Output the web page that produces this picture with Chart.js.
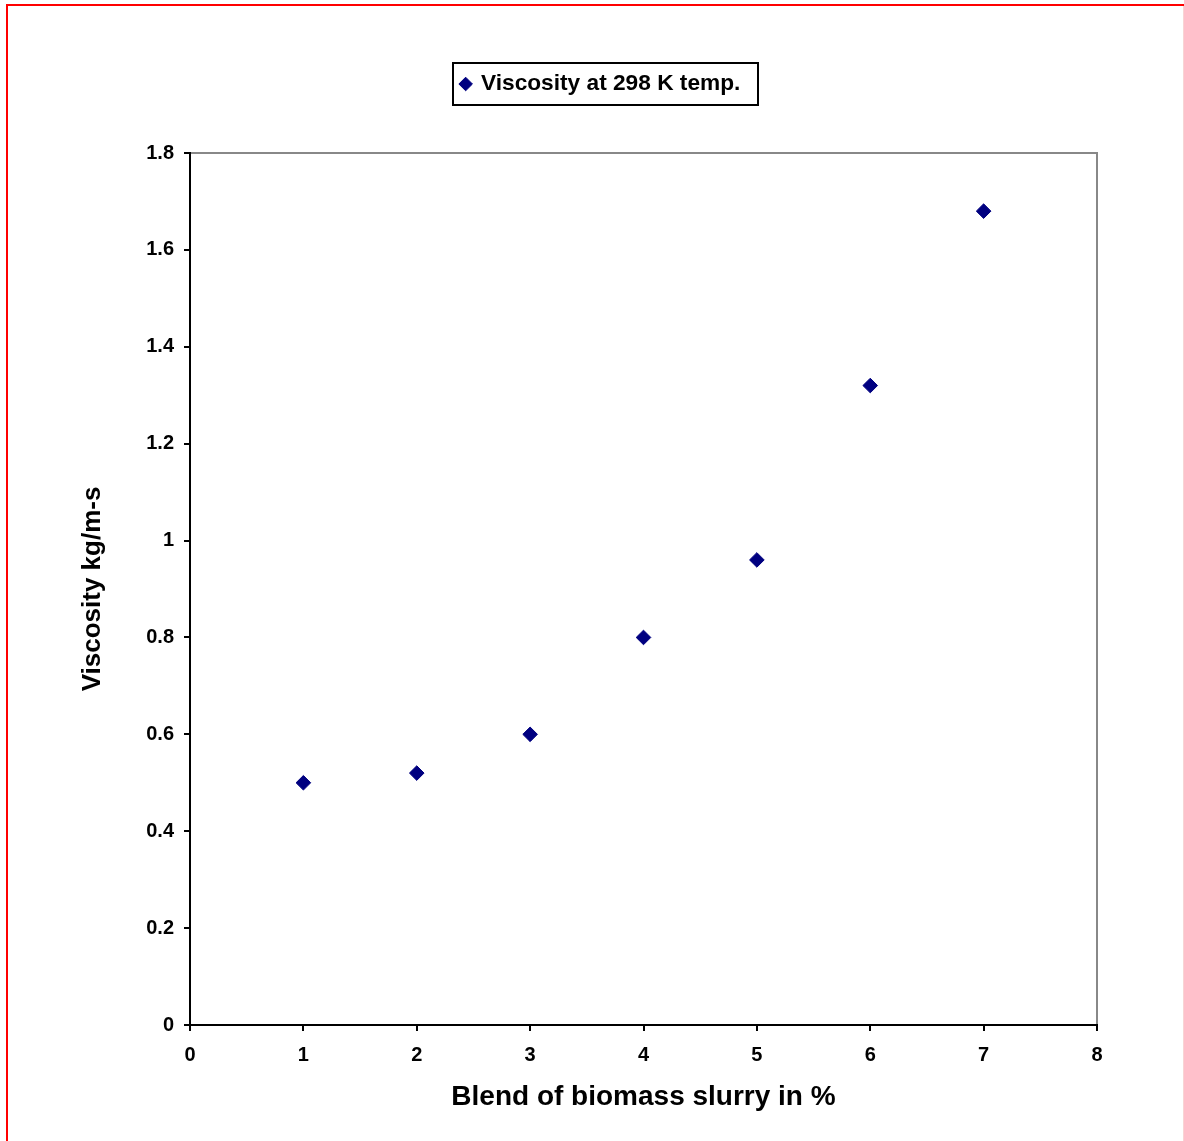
<!DOCTYPE html>
<html>
<head>
<meta charset="utf-8">
<title>Viscosity of biomass slurry blends</title>
<script src="https://cdn.jsdelivr.net/npm/chart.js@4.4.0/dist/chart.umd.min.js"></script>
<style>
  html, body { margin: 0; padding: 0; background: #ffffff; }
  #wrap { position: relative; width: 1184px; height: 1141px; }
</style>
</head>
<body>
<div id="wrap"><canvas id="chart"></canvas></div>
<script>
// Measured viscosity of the slurry blends
const blendPercent = [1, 2, 3, 4, 5, 6, 7];
const viscosity = [0.5, 0.52, 0.6, 0.8, 0.96, 1.32, 1.68];
const seriesLabel = 'Viscosity at 298 K temp.';

// Axis ticks and titles
const xTickValues = [0, 1, 2, 3, 4, 5, 6, 7, 8];
const yTickValues = [0, 0.2, 0.4, 0.6, 0.8, 1, 1.2, 1.4, 1.6, 1.8];
const xTitle = 'Blend of biomass slurry in %';
const yTitle = 'Viscosity kg/m-s';

const FONT = "'Liberation Sans', Arial, Helvetica, sans-serif";
Chart.defaults.font.family = FONT;
Chart.defaults.color = '#000000';

const points = blendPercent.map((x, i) => ({ x: x, y: viscosity[i] }));

const LEGEND_FONT = 22.7;
const LEGEND_PAD = 22.65;
const LEGEND_BOX_W = 8;

// Page frame, grey top/right plot edges and the boxed legend
const decorations = {
  id: 'decorations',
  afterLayout(chart) {
    const lg = chart.legend;
    if (!lg) return;
    const dx = 601 - (lg.left + lg.right) / 2;
    lg.left += dx;
    lg.right += dx;
  },
  beforeDraw(chart) {
    const ctx = chart.ctx;
    ctx.save();
    ctx.fillStyle = '#ffffff';
    ctx.fillRect(0, 0, chart.width, chart.height);
    ctx.fillStyle = '#ff0000';
    ctx.fillRect(6, 4, chart.width - 6, 2);
    ctx.fillRect(6, 4, 2, chart.height - 4);
    ctx.fillStyle = '#f9d4d4';
    ctx.fillRect(chart.width - 1, 6, 1, chart.height - 6);
    ctx.restore();
  },
  beforeDatasetsDraw(chart) {
    const { left, top, right, bottom } = chart.chartArea;
    const ctx = chart.ctx;
    ctx.save();
    ctx.strokeStyle = '#888888';
    ctx.lineWidth = 2;
    ctx.beginPath();
    ctx.moveTo(left + 1, top);
    ctx.lineTo(right + 1, top);
    ctx.moveTo(right, top);
    ctx.lineTo(right, bottom - 1);
    ctx.stroke();
    ctx.restore();
  },
  afterDraw(chart) {
    const lg = chart.legend;
    if (!lg) return;
    const ctx = chart.ctx;
    ctx.save();
    ctx.font = 'bold ' + LEGEND_FONT + 'px ' + FONT;
    const itemW = LEGEND_BOX_W + LEGEND_FONT / 2 + ctx.measureText(seriesLabel).width;
    const cx = (lg.left + lg.right) / 2;
    const cy = lg.top + LEGEND_PAD + LEGEND_FONT / 2;
    const x0 = Math.round(cx - itemW / 2 - 9);
    const x1 = Math.round(cx + itemW / 2 + 18);
    const y0 = Math.round(cy - 21);
    const y1 = Math.round(cy + 21);
    ctx.strokeStyle = '#000000';
    ctx.lineWidth = 2;
    ctx.strokeRect(x0, y0, x1 - x0, y1 - y0);
    ctx.restore();
  }
};

new Chart(document.getElementById('chart'), {
  type: 'scatter',
  data: {
    datasets: [{
      label: seriesLabel,
      data: points,
      pointStyle: 'rectRot',
      pointRadius: 7.3,
      pointHoverRadius: 7.3,
      backgroundColor: '#000080',
      borderColor: '#000080',
      borderWidth: 1,
      showLine: false
    }]
  },
  options: {
    responsive: true,
    maintainAspectRatio: false,
    devicePixelRatio: 1,
    animation: false,
    layout: { padding: { left: 70, right: 87, top: 50, bottom: 20 } },
    plugins: {
      legend: {
        display: true,
        position: 'top',
        labels: {
          usePointStyle: true,
          boxWidth: LEGEND_BOX_W,
          boxHeight: 9.6,
          padding: LEGEND_PAD,
          color: '#000000',
          font: { size: LEGEND_FONT, weight: 'bold', family: FONT }
        }
      },
      // empty spacer between legend and plot area
      title: {
        display: true,
        text: '',
        weight: 500,
        font: { size: 10 },
        padding: { top: 17.8, bottom: 17.85 }
      },
      tooltip: { enabled: false }
    },
    scales: {
      x: {
        type: 'linear',
        min: 0,
        max: 8,
        afterBuildTicks: (s) => { s.ticks = xTickValues.map(v => ({ value: v })); },
        afterFit: (s) => { s.height = 96; },
        border: { display: true, color: '#000000', width: 2 },
        grid: { drawOnChartArea: false, drawTicks: true, tickLength: 6, color: '#000000', lineWidth: 2 },
        ticks: {
          padding: 12,
          color: '#000000',
          font: { size: 20, weight: 'bold', family: FONT },
          callback: (v) => String(v),
          maxRotation: 0
        },
        title: {
          display: true,
          text: xTitle,
          color: '#000000',
          font: { size: 28, weight: 'bold', family: FONT },
          padding: { top: 0, bottom: 7.2 }
        }
      },
      y: {
        type: 'linear',
        min: 0,
        max: 1.8,
        afterBuildTicks: (s) => { s.ticks = yTickValues.map(v => ({ value: v })); },
        afterFit: (s) => { s.width = 120; },
        border: { display: true, color: '#000000', width: 2 },
        grid: { drawOnChartArea: false, drawTicks: true, tickLength: 6, color: '#000000', lineWidth: 2 },
        ticks: {
          padding: 10,
          color: '#000000',
          font: { size: 20, weight: 'bold', family: FONT },
          callback: (v) => String(v)
        },
        title: {
          display: true,
          text: yTitle,
          color: '#000000',
          font: { size: 26, weight: 'bold', family: FONT },
          padding: { top: 7.4, bottom: 0 }
        }
      }
    }
  },
  plugins: [decorations]
});
</script>
</body>
</html>
